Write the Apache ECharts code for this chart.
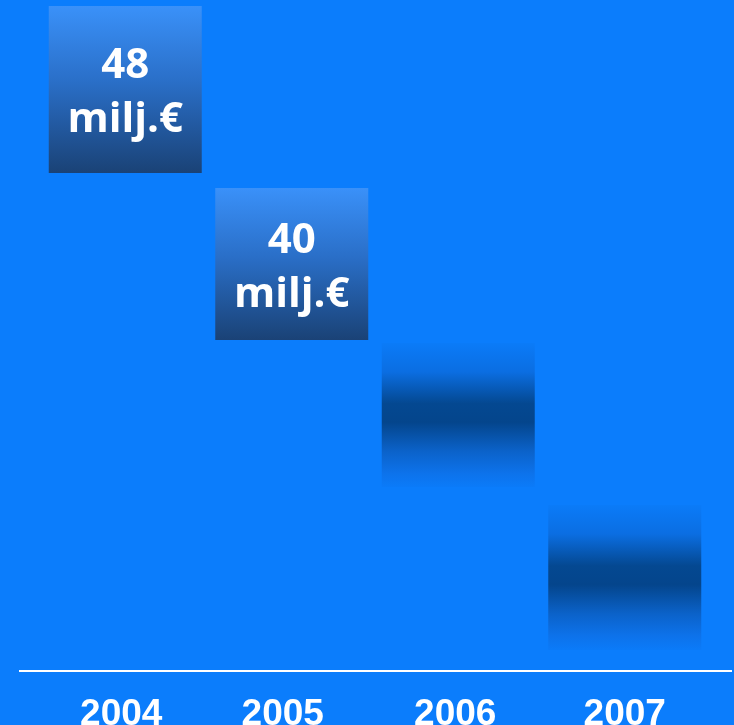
<!DOCTYPE html>
<html>
<head>
<meta charset="utf-8">
<script src="https://cdn.jsdelivr.net/npm/echarts@6/dist/echarts.min.js"></script>
<style>
html,body{margin:0;padding:0;background:#0b7dfc;}
#c{width:734px;height:725px;}
</style>
</head>
<body>
<div id="c"></div>
<script>
const years = ['2004', '2005', '2006', '2007'];
const boxBase = [99.6, 66.2, 36.8, 4.2];
const boxHeight = [33.4, 30.4, 28.8, 29.0];
const amounts = [48, 40, null, null];
const unit = 'milj.€';

const solidGrad = new echarts.graphic.LinearGradient(0, 0, 0, 1, [
  {offset: 0, color: '#3a91f9'},
  {offset: 0.45, color: '#2a6fc8'},
  {offset: 1, color: '#1a4276'}
]);
const fadeGrad = new echarts.graphic.LinearGradient(0, 0, 0, 1, [
  {offset: 0, color: '#0b7bf8'},
  {offset: 0.2, color: '#0b6ee2'},
  {offset: 0.42, color: '#044891'},
  {offset: 0.55, color: '#04458c'},
  {offset: 0.75, color: '#0b62c9'},
  {offset: 0.9, color: '#0d72ea'},
  {offset: 1, color: '#0b7bf9'}
]);

const boxData = boxHeight.map((h, i) => ({
  value: h,
  itemStyle: {color: amounts[i] != null ? solidGrad : fadeGrad},
  label: {
    show: amounts[i] != null,
    formatter: amounts[i] != null ? (amounts[i] + '\n' + unit) : ''
  }
}));

const labelShift = {'2004': 8, '2005': 18, '2006': 6, '2007': 0};
const yearStyle = {
  color: '#ffffff',
  fontFamily: 'Liberation Sans',
  fontWeight: 'bold',
  fontSize: 37
};
const rich = {};
years.forEach(y => {
  rich['y' + y] = Object.assign({}, yearStyle, {padding: [0, labelShift[y], 0, 0]});
});

const chart = echarts.init(document.getElementById('c'));
chart.setOption({
  backgroundColor: '#0b7dfc',
  animation: false,
  grid: {left: 42, right: 26, top: 1, bottom: 54, containLabel: false, outerBoundsMode: 'none'},
  xAxis: {
    type: 'category',
    data: years,
    axisLine: {show: false},
    axisTick: {show: false},
    axisLabel: {
      interval: 0,
      hideOverlap: false,
      color: '#ffffff',
      fontFamily: 'Liberation Sans',
      fontWeight: 'bold',
      fontSize: 37,
      margin: 25,
      formatter: v => '{y' + v + '|' + v + '}',
      rich: rich
    }
  },
  yAxis: {
    type: 'value',
    min: 0,
    max: 134,
    show: false,
    splitLine: {show: false}
  },
  series: [
    {
      type: 'bar',
      stack: 'w',
      data: boxBase,
      barWidth: 153,
      itemStyle: {color: 'rgba(0,0,0,0)'},
      silent: true
    },
    {
      type: 'bar',
      stack: 'w',
      data: boxData,
      barWidth: 153,
      label: {
        position: 'inside',
        offset: [0, 4],
        color: '#ffffff',
        fontFamily: 'Open Sans',
        fontWeight: 'bold',
        fontSize: 42,
        lineHeight: 54
      }
    }
  ],
  graphic: [{
    type: 'line',
    shape: {x1: 19, y1: 671, x2: 732, y2: 671},
    style: {stroke: '#ffffff', lineWidth: 2}
  }]
});
</script>
</body>
</html>
